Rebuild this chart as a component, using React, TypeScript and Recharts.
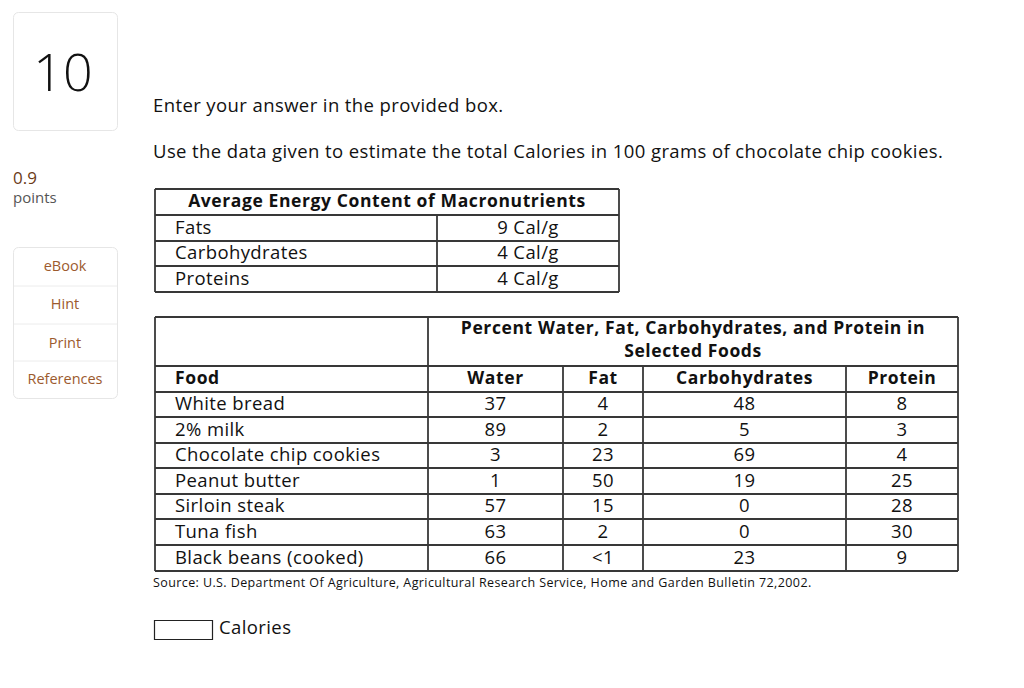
import React from 'react';
import { Surface, Layer, Text, Rectangle } from 'recharts';

const macroNames = ['Fats', 'Carbohydrates', 'Proteins'];
const macroEnergy = ['9 Cal/g', '4 Cal/g', '4 Cal/g'];

const foods = [
  'White bread',
  '2% milk',
  'Chocolate chip cookies',
  'Peanut butter',
  'Sirloin steak',
  'Tuna fish',
  'Black beans (cooked)',
];
const water = ['37', '89', '3', '1', '57', '63', '66'];
const fat = ['4', '2', '23', '50', '15', '2', '<1'];
const carbs = ['48', '5', '69', '19', '0', '0', '23'];
const protein = ['8', '3', '4', '25', '28', '30', '9'];
const foodHeaders = ['Food', 'Water', 'Fat', 'Carbohydrates', 'Protein'];
const sideLinks = ['eBook', 'Hint', 'Print', 'References'];

const FONT = '"Open Sans", Lato, sans-serif';
const INK = '#111';
const LINE = '#383838';
const BODY = { fontSize: 18.5, letterSpacing: 0.4 };
const HEAD = { fontSize: 17.5, letterSpacing: 0.6, fontWeight: 'bold' };

// layout of the two tables
const t1 = { x0: 155, x1: 619, split: 437, rows: [189, 215, 241, 266, 292] };
const t2 = {
  cols: [155, 428, 563, 643, 846, 958],
  rows: [317, 366, 392, 417, 443, 468, 494, 519, 545, 571],
};

const HLine = ({ x0, x1, y }: { x0: number; x1: number; y: number }) => (
  <line x1={x0} x2={x1} y1={y} y2={y} stroke={LINE} strokeWidth={1.8} />
);
const VLine = ({ x, y0, y1 }: { x: number; y0: number; y1: number }) => (
  <line x1={x} x2={x} y1={y0} y2={y1} stroke={LINE} strokeWidth={1.8} />
);

const Label = (props: any) => (
  <Text fontFamily={FONT} fill={INK} verticalAnchor="middle" {...props} />
);

const EnergyTable = () => {
  const { x0, x1, split, rows } = t1;
  const mid = (i: number) => (rows[i] + rows[i + 1]) / 2 - 1;
  return (
    <Layer>
      {rows.map((y) => (
        <HLine key={y} x0={x0} x1={x1} y={y} />
      ))}
      <VLine x={x0} y0={rows[0]} y1={rows[4]} />
      <VLine x={x1} y0={rows[0]} y1={rows[4]} />
      <VLine x={split} y0={rows[1]} y1={rows[4]} />
      <Label x={(x0 + x1) / 2} y={mid(0)} textAnchor="middle" {...HEAD}>
        Average Energy Content of Macronutrients
      </Label>
      {macroNames.map((m, i) => (
        <Label key={m} x={175} y={mid(i + 1)} {...BODY}>
          {m}
        </Label>
      ))}
      {macroEnergy.map((v, i) => (
        <Label key={i} x={(split + x1) / 2} y={mid(i + 1)} textAnchor="middle" {...BODY}>
          {v}
        </Label>
      ))}
    </Layer>
  );
};

const FoodTable = () => {
  const { cols, rows } = t2;
  const mid = (i: number) => (rows[i] + rows[i + 1]) / 2 - 1;
  const colMid = (c: number) => (cols[c] + cols[c + 1]) / 2;
  const numeric = [water, fat, carbs, protein];
  const last = rows[rows.length - 1];
  return (
    <Layer>
      {rows.map((y) => (
        <HLine key={y} x0={cols[0]} x1={cols[5]} y={y} />
      ))}
      <VLine x={cols[0]} y0={rows[0]} y1={last} />
      <VLine x={cols[1]} y0={rows[0]} y1={last} />
      {cols.slice(2, 5).map((x) => (
        <VLine key={x} x={x} y0={rows[1]} y1={last} />
      ))}
      <VLine x={cols[5]} y0={rows[0]} y1={last} />
      <Label x={(cols[1] + cols[5]) / 2} y={328} textAnchor="middle" {...HEAD}>
        Percent Water, Fat, Carbohydrates, and Protein in
      </Label>
      <Label x={(cols[1] + cols[5]) / 2} y={351} textAnchor="middle" {...HEAD}>
        Selected Foods
      </Label>
      {foodHeaders.map((h, c) => (
        <Label
          key={h}
          x={c === 0 ? 175 : colMid(c)}
          y={mid(1)}
          textAnchor={c === 0 ? 'start' : 'middle'}
          {...HEAD}
        >
          {h}
        </Label>
      ))}
      {foods.map((f, i) => (
        <Label key={f} x={175} y={mid(i + 2)} {...BODY}>
          {f}
        </Label>
      ))}
      {numeric.map((col, c) =>
        col.map((v, i) => (
          <Label key={`${c}-${i}`} x={colMid(c + 1)} y={mid(i + 2)} textAnchor="middle" {...BODY}>
            {v}
          </Label>
        )),
      )}
    </Layer>
  );
};

const Sidebar = () => {
  const linkY = [266, 304, 343, 379];
  return (
    <Layer>
      <Rectangle x={13.5} y={12.5} width={104} height={118} radius={5} fill="#fff" stroke="#e6e6e6" />
      <Label x={63} y={73} textAnchor="middle" fontSize={52} fontWeight={300}>
        10
      </Label>
      <Label x={13} y={178} fontSize={17} fill="#6b3b17">
        0.9
      </Label>
      <Label x={13} y={198} fontSize={15} fill="#555">
        points
      </Label>
      <Rectangle x={13.5} y={247.5} width={104} height={151} radius={5} fill="#fff" stroke="#e6e6e6" />
      {[286, 324, 361].map((y) => (
        <line key={y} x1={14} x2={117} y1={y} y2={y} stroke="#ececec" />
      ))}
      {sideLinks.map((s, i) => (
        <Label key={s} x={65} y={linkY[i]} textAnchor="middle" fontSize={14.5} fill="#9c5a2e">
          {s}
        </Label>
      ))}
    </Layer>
  );
};

export default function App() {
  return (
    <div style={{ position: 'absolute', left: 0, top: 0, width: 1024, height: 688, background: '#fff' }}>
      <Surface width={1024} height={688}>
        <Sidebar />
        <Label x={153} y={105} {...BODY}>
          Enter your answer in the provided box.
        </Label>
        <Label x={153} y={151} {...BODY}>
          Use the data given to estimate the total Calories in 100 grams of chocolate chip cookies.
        </Label>
        <EnergyTable />
        <FoodTable />
        <Label x={153} y={583} fontSize={12.5} letterSpacing={0.4}>
          Source: U.S. Department Of Agriculture, Agricultural Research Service, Home and Garden Bulletin 72,2002.
        </Label>
        <Rectangle x={154.5} y={620.5} width={58} height={19} fill="#fff" stroke="#222" strokeWidth={1.2} />
        <Label x={219} y={627} {...BODY}>
          Calories
        </Label>
      </Surface>
    </div>
  );
}
